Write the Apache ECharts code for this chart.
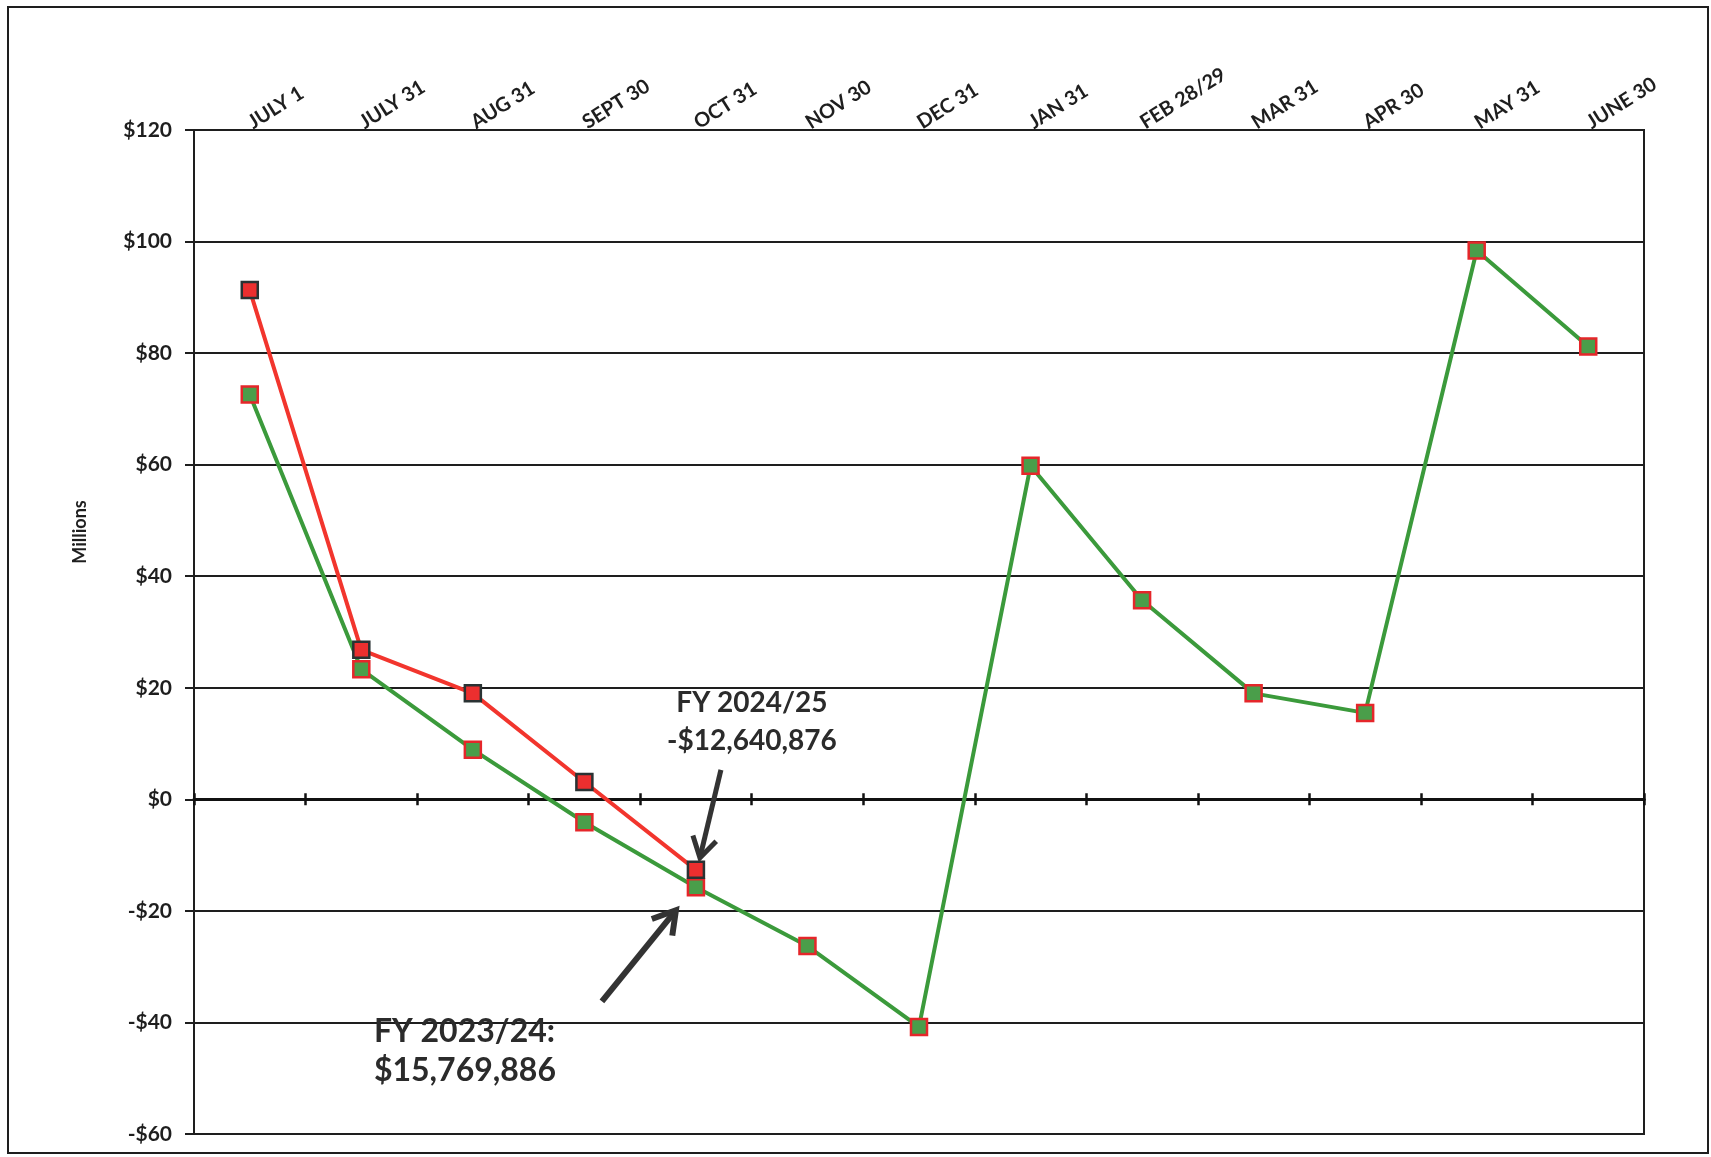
<!DOCTYPE html>
<html>
<head>
<meta charset="utf-8">
<title>Cash Balance by Month</title>
<script src="https://cdn.jsdelivr.net/npm/echarts@6/dist/echarts.min.js"></script>
<style>
  html, body { margin: 0; padding: 0; background: #fff; }
  #chart { width: 1711px; height: 1157px; }
</style>
</head>
<body>
<div id="chart"></div>
<script>
// Month-end balances, in millions of dollars
const categories = ['JULY 1', 'JULY 31', 'AUG 31', 'SEPT 30', 'OCT 31', 'NOV 30', 'DEC 31',
                    'JAN 31', 'FEB 28/29', 'MAR 31', 'APR 30', 'MAY 31', 'JUNE 30'];
const fy2324 = [72.6, 23.3, 8.9, -4.1, -15.769886, -26.3, -40.8, 59.8, 35.7, 19.0, 15.5, 98.4, 81.2];
const fy2425 = [91.3, 26.8, 19.0, 3.1, -12.640876];
const yMin = -60, yMax = 120, yStep = 20;

// Callout texts
const note2425 = ['FY 2024/25', '-$12,640,876'];
const note2324 = ['FY 2023/24:', '$15,769,886'];

const FONT = 'Lato, "Open Sans", sans-serif';
const INK = '#1e1e1e';
const GRID_BOX = { left: 194, right: 67, top: 130, bottom: 23 };

const chart = echarts.init(document.getElementById('chart'), null, { renderer: 'canvas' });

const money = v => (v < 0 ? '-$' + Math.abs(v) : '$' + v);

chart.setOption({
  backgroundColor: '#ffffff',
  animation: false,
  grid: [
    Object.assign({ show: true, borderColor: INK, borderWidth: 2, backgroundColor: 'transparent' }, GRID_BOX),
    // twin grid used only to draw the upper half of the zero-line ticks
    Object.assign({ show: false }, GRID_BOX)
  ],
  xAxis: [
    { // month labels along the top edge
      gridIndex: 0, type: 'category', data: categories, position: 'top',
      axisLine: { show: false, onZero: false },
      axisTick: { show: false },
      axisLabel: {
        rotate: -32, margin: 6, interval: 0,
        fontFamily: FONT, fontWeight: 'bold', fontSize: 20, color: INK
      },
      splitLine: { show: false }
    },
    { // zero line with ticks below it
      gridIndex: 0, type: 'category', data: categories, position: 'bottom',
      axisLine: { show: true, onZero: true, lineStyle: { color: '#111', width: 3 } },
      axisTick: { show: true, inside: false, length: 6, lineStyle: { color: '#111', width: 2.5 } },
      axisLabel: { show: false },
      splitLine: { show: false }
    },
    { // ticks above the zero line
      gridIndex: 1, type: 'category', data: categories, position: 'bottom',
      axisLine: { show: true, onZero: true, lineStyle: { color: '#111', width: 3 } },
      axisTick: { show: true, inside: true, length: 6, lineStyle: { color: '#111', width: 2.5 } },
      axisLabel: { show: false },
      splitLine: { show: false }
    }
  ],
  yAxis: [
    {
      gridIndex: 0, type: 'value', min: yMin, max: yMax, interval: yStep,
      axisLine: { show: true, lineStyle: { color: INK, width: 2 } },
      axisTick: { show: true, length: 9, lineStyle: { color: INK, width: 2 } },
      axisLabel: {
        margin: 22, formatter: money,
        fontFamily: FONT, fontWeight: 'bold', fontSize: 21, color: INK
      },
      splitLine: { show: true, lineStyle: { color: INK, width: 2 } }
    },
    {
      gridIndex: 1, type: 'value', min: yMin, max: yMax, interval: yStep,
      axisLine: { show: false }, axisTick: { show: false },
      axisLabel: { show: false }, splitLine: { show: false }
    }
  ],
  series: [
    {
      name: 'FY 2023/24', type: 'line', xAxisIndex: 0, yAxisIndex: 0, data: fy2324,
      symbol: 'rect', symbolSize: 16,
      lineStyle: { color: '#3b9a3b', width: 4 },
      itemStyle: { color: '#4a9e4a', borderColor: '#e5262a', borderWidth: 2.5 },
      z: 3
    },
    {
      name: 'FY 2024/25', type: 'line', xAxisIndex: 0, yAxisIndex: 0, data: fy2425,
      symbol: 'rect', symbolSize: 16,
      lineStyle: { color: '#f2352d', width: 4 },
      itemStyle: { color: '#ec2f2f', borderColor: '#2a3233', borderWidth: 2.5 },
      z: 4
    }
  ]
});

// Callouts anchored to the October points
function arrow(from, tip, width, head) {
  const dx = tip[0] - from[0], dy = tip[1] - from[1];
  const len = Math.sqrt(dx * dx + dy * dy);
  const ux = dx / len, uy = dy / len;
  const px = -uy, py = ux;
  const back = [tip[0] - ux * head, tip[1] - uy * head];
  return [
    {
      type: 'line', z: 20,
      shape: { x1: from[0], y1: from[1], x2: tip[0] - ux * 3, y2: tip[1] - uy * 3 },
      style: { stroke: '#333', lineWidth: width, lineCap: 'butt' }
    },
    {
      type: 'polyline', z: 20,
      shape: { points: [
        [back[0] + px * head * 0.6, back[1] + py * head * 0.6],
        [tip[0], tip[1]],
        [back[0] - px * head * 0.6, back[1] - py * head * 0.6]
      ] },
      style: { stroke: '#333', lineWidth: width, fill: null, lineJoin: 'miter' }
    }
  ];
}

const pRed = chart.convertToPixel({ xAxisIndex: 0, yAxisIndex: 0 }, [4, fy2425[4]]);
const pGreen = chart.convertToPixel({ xAxisIndex: 0, yAxisIndex: 0 }, [4, fy2324[4]]);

const graphics = [
  { // outer frame
    type: 'rect', z: 1, silent: true,
    shape: { x: 8, y: 7, width: 1700, height: 1146 },
    style: { fill: null, stroke: INK, lineWidth: 2 }
  },
  {
    type: 'text', z: 10,
    x: 80, y: 532, rotation: Math.PI / 2,
    style: {
      text: 'Millions', fontFamily: FONT, fontWeight: 'bold', fontSize: 18,
      fill: INK, align: 'center', verticalAlign: 'middle'
    }
  },
  {
    type: 'text', z: 10,
    x: pRed[0] + 56, y: pRed[1] - 186,
    style: {
      text: note2425.join('\n'), fontFamily: FONT, fontWeight: 'bold', fontSize: 28,
      lineHeight: 38, fill: '#2b2b2b', align: 'center', verticalAlign: 'top'
    }
  },
  {
    type: 'text', z: 10,
    x: pGreen[0] - 322, y: pGreen[1] + 125,
    style: {
      text: note2324.join('\n'), fontFamily: FONT, fontWeight: 'bold', fontSize: 32,
      lineHeight: 39, fill: '#2b2b2b', align: 'left', verticalAlign: 'top'
    }
  }
].concat(
  arrow([pRed[0] + 25, pRed[1] - 100], [pRed[0] + 4, pRed[1] - 12], 5, 20),
  arrow([pGreen[0] - 94, pGreen[1] + 114], [pGreen[0] - 20, pGreen[1] + 23], 6, 22)
);

chart.setOption({ graphic: graphics });
</script>
</body>
</html>
